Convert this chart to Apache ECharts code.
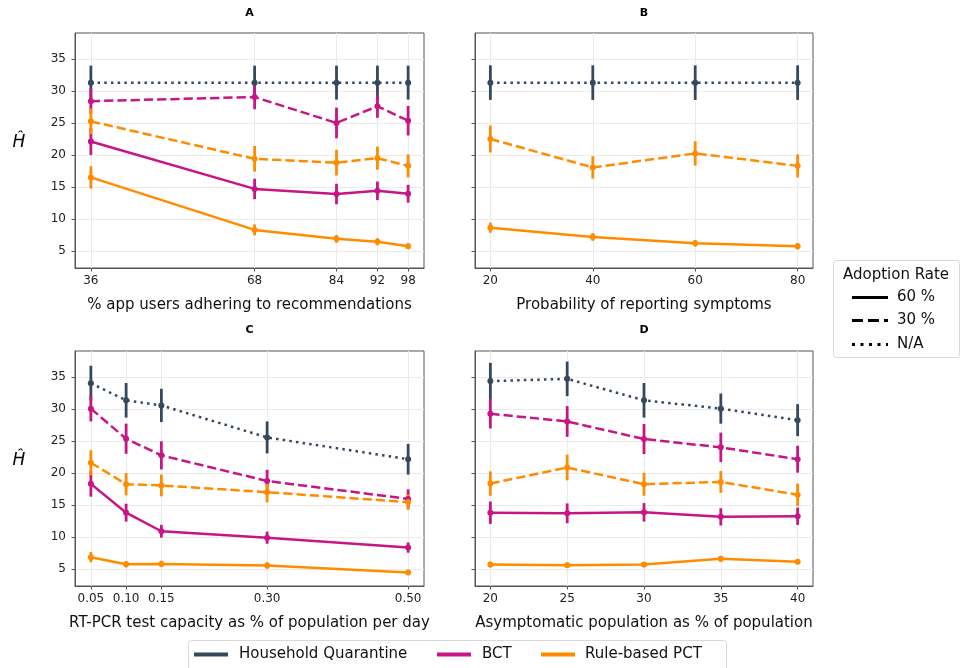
<!DOCTYPE html>
<html>
<head>
<meta charset="utf-8">
<script src="https://cdn.jsdelivr.net/npm/echarts@6/dist/echarts.min.js"></script>
<style>html,body{margin:0;padding:0;background:#fff}#chart{width:970px;height:668px}</style>
</head>
<body>
<div id="chart"></div>
<script>
// ---------- DATA ----------
const yTicks = [5, 10, 15, 20, 25, 30, 35];

// Panel A: % app users adhering to recommendations
const xA = [36, 68, 84, 92, 98];
const A_hq = [31.3, 31.3, 31.3, 31.3, 31.3];
const A_hq_err = [2.65, 2.65, 2.65, 2.65, 2.65];
const A_bct30 = [28.4, 29.05, 25.0, 27.6, 25.35];
const A_bct30_err = [2.0, 1.9, 2.4, 1.8, 2.3];
const A_rule30 = [25.25, 19.4, 18.8, 19.5, 18.3];
const A_rule30_err = [2.0, 2.0, 2.0, 1.8, 1.8];
const A_bct60 = [22.1, 14.7, 13.9, 14.4, 13.95];
const A_bct60_err = [2.1, 1.6, 1.6, 1.45, 1.4];
const A_rule60 = [16.5, 8.3, 6.9, 6.45, 5.75];
const A_rule60_err = [1.75, 0.85, 0.6, 0.55, 0.45];

// Panel B: Probability of reporting symptoms
const xB = [20, 40, 60, 80];
const B_hq = [31.3, 31.3, 31.3, 31.3];
const B_hq_err = [2.7, 2.7, 2.7, 2.7];
const B_rule30 = [22.5, 18.05, 20.25, 18.3];
const B_rule30_err = [2.1, 1.75, 1.9, 1.8];
const B_rule60 = [8.65, 7.2, 6.2, 5.75];
const B_rule60_err = [0.8, 0.6, 0.5, 0.5];

// Panel C: RT-PCR test capacity
const xC = [0.05, 0.10, 0.15, 0.30, 0.50];
const C_hq = [34.0, 31.35, 30.55, 25.55, 22.15];
const C_hq_err = [2.75, 2.7, 2.6, 2.5, 2.4];
const C_bct30 = [30.05, 25.35, 22.75, 18.75, 15.95];
const C_bct30_err = [2.0, 2.35, 2.2, 1.75, 1.5];
const C_rule30 = [21.6, 18.25, 18.05, 17.0, 15.45];
const C_rule30_err = [1.95, 1.75, 1.7, 1.6, 1.2];
const C_bct60 = [18.3, 13.8, 10.9, 9.9, 8.35];
const C_bct60_err = [2.0, 1.4, 1.0, 0.95, 0.8];
const C_rule60 = [6.85, 5.75, 5.8, 5.55, 4.45];
const C_rule60_err = [0.8, 0.5, 0.5, 0.5, 0.3];

// Panel D: Asymptomatic population
const xD = [20, 25, 30, 35, 40];
const D_hq = [34.35, 34.7, 31.35, 30.05, 28.25];
const D_hq_err = [2.85, 2.7, 2.7, 2.35, 2.5];
const D_bct30 = [29.25, 28.05, 25.3, 24.0, 22.15];
const D_bct30_err = [2.3, 2.4, 2.35, 2.3, 2.1];
const D_rule30 = [18.35, 20.85, 18.25, 18.6, 16.6];
const D_rule30_err = [1.9, 2.0, 1.8, 1.7, 1.75];
const D_bct60 = [13.8, 13.7, 13.85, 13.15, 13.25];
const D_bct60_err = [1.75, 1.55, 1.45, 1.35, 1.35];
const D_rule60 = [5.7, 5.6, 5.7, 6.6, 6.15];
const D_rule60_err = [0.45, 0.4, 0.4, 0.45, 0.4];

const panelTitles = ['A', 'B', 'C', 'D'];
const xNames = [
  '% app users adhering to recommendations',
  'Probability of reporting symptoms',
  'RT-PCR test capacity as % of population per day',
  'Asymptomatic population as % of population'
];
const policyNames = ['Household Quarantine', 'BCT', 'Rule-based PCT'];
const adoptionNames = ['60 %', '30 %', 'N/A'];

// ---------- STYLE ----------
const COL = { hq: '#34495e', bct: '#c71585', rule: '#ff8c00' };
const DASH = { solid: 'solid', dashed: [9.25, 4], dotted: [2.5, 4.2] };
const FONT = 'DejaVu Sans';

const grids = [
  { left: 75, top: 33, width: 349, height: 235 },
  { left: 475, top: 33, width: 338, height: 235 },
  { left: 75, top: 351, width: 349, height: 235 },
  { left: 475, top: 351, width: 338, height: 235 }
];
const xRanges = [[32.9, 101.1], [17, 83], [0.0275, 0.5225], [19, 41]];
const xTickVals = [xA, xB, xC, xD];

const option = {
  animation: false,
  backgroundColor: '#fff',
  textStyle: { fontFamily: FONT },
  grid: grids.map(g => Object.assign({ show: true, borderColor: '#555', borderWidth: 1, backgroundColor: 'transparent', containLabel: false }, g)),
  xAxis: grids.map((g, i) => ({
    type: 'value', gridIndex: i, min: xRanges[i][0], max: xRanges[i][1],
    name: xNames[i], nameLocation: 'middle', nameGap: 30,
    nameTextStyle: { fontFamily: FONT, fontSize: 15, color: '#111' },
    axisLine: { show: true, lineStyle: { color: '#555', width: 1 } },
    axisTick: { show: true, length: 3.5, customValues: xTickVals[i], lineStyle: { color: '#555' } },
    axisLabel: {
      customValues: xTickVals[i], margin: 7, fontFamily: FONT, fontSize: 12, color: '#222',
      formatter: i === 2 ? (v => v.toFixed(2)) : (v => String(v))
    },
    splitLine: { show: true, lineStyle: { color: '#ebebeb', width: 1 } }
  })),
  yAxis: grids.map((g, i) => ({
    type: 'value', gridIndex: i, min: 2.35, max: 39.05,
    axisLine: { show: true, lineStyle: { color: '#555', width: 1 } },
    axisTick: { show: true, length: 3.5, customValues: yTicks, lineStyle: { color: '#555' } },
    axisLabel: { show: i % 2 === 0, customValues: yTicks, margin: 9, fontFamily: FONT, fontSize: 12, color: '#222' },
    splitLine: { show: true, lineStyle: { color: '#ebebeb', width: 1 } }
  })),
  series: [],
  graphic: []
};

function addSeries(panel, xs, ys, errs, color, dash) {
  option.series.push({
    type: 'custom', xAxisIndex: panel, yAxisIndex: panel, z: 2,
    data: xs.map((x, k) => [x, ys[k] - errs[k], ys[k] + errs[k]]),
    encode: { x: 0, y: [1, 2] },
    renderItem: function (params, api) {
      const p1 = api.coord([api.value(0), api.value(1)]);
      const p2 = api.coord([api.value(0), api.value(2)]);
      return { type: 'line', shape: { x1: p1[0], y1: p1[1], x2: p2[0], y2: p2[1] },
               style: { stroke: color, lineWidth: 2.8 } };
    },
    silent: true
  });
  option.series.push({
    type: 'line', xAxisIndex: panel, yAxisIndex: panel, z: 3,
    data: xs.map((x, k) => [x, ys[k]]),
    symbol: 'circle', symbolSize: 6, showSymbol: true,
    itemStyle: { color: color },
    lineStyle: { color: color, width: 2.5, type: dash, cap: 'butt' },
    silent: true
  });
}

// Panel A
addSeries(0, xA, A_hq, A_hq_err, COL.hq, DASH.dotted);
addSeries(0, xA, A_bct30, A_bct30_err, COL.bct, DASH.dashed);
addSeries(0, xA, A_bct60, A_bct60_err, COL.bct, DASH.solid);
addSeries(0, xA, A_rule30, A_rule30_err, COL.rule, DASH.dashed);
addSeries(0, xA, A_rule60, A_rule60_err, COL.rule, DASH.solid);
// Panel B
addSeries(1, xB, B_hq, B_hq_err, COL.hq, DASH.dotted);
addSeries(1, xB, B_rule30, B_rule30_err, COL.rule, DASH.dashed);
addSeries(1, xB, B_rule60, B_rule60_err, COL.rule, DASH.solid);
// Panel C
addSeries(2, xC, C_hq, C_hq_err, COL.hq, DASH.dotted);
addSeries(2, xC, C_bct30, C_bct30_err, COL.bct, DASH.dashed);
addSeries(2, xC, C_bct60, C_bct60_err, COL.bct, DASH.solid);
addSeries(2, xC, C_rule30, C_rule30_err, COL.rule, DASH.dashed);
addSeries(2, xC, C_rule60, C_rule60_err, COL.rule, DASH.solid);
// Panel D
addSeries(3, xD, D_hq, D_hq_err, COL.hq, DASH.dotted);
addSeries(3, xD, D_bct30, D_bct30_err, COL.bct, DASH.dashed);
addSeries(3, xD, D_bct60, D_bct60_err, COL.bct, DASH.solid);
addSeries(3, xD, D_rule30, D_rule30_err, COL.rule, DASH.dashed);
addSeries(3, xD, D_rule60, D_rule60_err, COL.rule, DASH.solid);

// Panel titles
const titlePos = [[249.5, 13.5], [644, 13.5], [249.5, 330.5], [644, 330.5]];
panelTitles.forEach((t, i) => {
  option.graphic.push({ type: 'text', x: titlePos[i][0], y: titlePos[i][1],
    style: { text: t, fontFamily: FONT, fontWeight: 'bold', fontSize: 11, fill: '#000', align: 'center', verticalAlign: 'middle' } });
});
// Y labels
[143, 461].forEach(y => {
  option.graphic.push({ type: 'text', x: 19, y: y,
    style: { text: 'Ĥ', fontFamily: FONT, fontStyle: 'italic', fontSize: 17, fill: '#000', align: 'center', verticalAlign: 'middle' } });
});

// Adoption rate legend (line style)
option.graphic.push({ type: 'rect', shape: { x: 833.5, y: 260.5, width: 126, height: 97, r: 3 },
  style: { fill: '#fff', stroke: '#d8d8d8', lineWidth: 1 } });
option.graphic.push({ type: 'text', x: 896, y: 275.5,
  style: { text: 'Adoption Rate', fontFamily: FONT, fontSize: 15, fill: '#111', align: 'center', verticalAlign: 'middle' } });
const styleRows = [297.5, 320.5, 344.5];
const styleDash = [null, [11, 5], [3, 5.5]];
adoptionNames.forEach((n, i) => {
  option.graphic.push({ type: 'line', shape: { x1: 852, y1: styleRows[i], x2: 888, y2: styleRows[i] },
    style: { stroke: '#000', lineWidth: 3.2, lineDash: styleDash[i], lineCap: 'butt' } });
  option.graphic.push({ type: 'text', x: 897, y: styleRows[i],
    style: { text: n, fontFamily: FONT, fontSize: 15, fill: '#111', align: 'left', verticalAlign: 'middle' } });
});

// Policy legend (colour)
option.graphic.push({ type: 'rect', shape: { x: 188.5, y: 640.5, width: 538, height: 40, r: 3 },
  style: { fill: '#fff', stroke: '#d8d8d8', lineWidth: 1 } });
const polLineX = [194, 437, 541];
const polTextX = [239, 482, 585];
const polCols = [COL.hq, COL.bct, COL.rule];
policyNames.forEach((n, i) => {
  option.graphic.push({ type: 'line', shape: { x1: polLineX[i], y1: 654.5, x2: polLineX[i] + 34, y2: 654.5 },
    style: { stroke: polCols[i], lineWidth: 4, lineCap: 'butt' } });
  option.graphic.push({ type: 'text', x: polTextX[i], y: 654.5,
    style: { text: n, fontFamily: FONT, fontSize: 15, fill: '#111', align: 'left', verticalAlign: 'middle' } });
});

const chart = echarts.init(document.getElementById('chart'), null, { renderer: 'canvas' });
chart.setOption(option);
</script>
</body>
</html>
